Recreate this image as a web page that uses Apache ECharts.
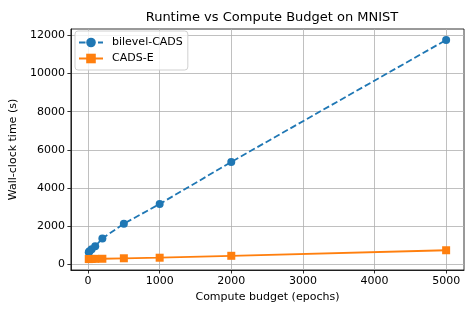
<!DOCTYPE html>
<html><head><meta charset="utf-8">
<script src="https://cdn.jsdelivr.net/npm/echarts@6/dist/echarts.min.js"></script>
<style>html,body{margin:0;padding:0;background:#fff}#c{width:476px;height:317px}</style>
</head><body><div id="c"></div>
<script>
const budgets = [10, 20, 50, 100, 200, 500, 1000, 2000, 5000];
const bilevelCADS = [640, 700, 800, 960, 1370, 2140, 3170, 5370, 11750];
const cadsE = [290, 290, 295, 300, 305, 330, 360, 460, 750];
const xTicks = [0, 1000, 2000, 3000, 4000, 5000];
const yTicks = [0, 2000, 4000, 6000, 8000, 10000, 12000];
const seriesNames = ['bilevel-CADS', 'CADS-E'];

const font = 'DejaVu Sans';
const chart = echarts.init(document.getElementById('c'), null, {renderer: 'canvas'});
const pairs = ys => budgets.map((b, i) => [b, ys[i]]);
const axisCommon = {
  axisLine: {show: true, onZero: false, lineStyle: {color: '#000', width: 0.8}},
  splitLine: {show: true, lineStyle: {color: '#b0b0b0', width: 0.8}},
  nameTextStyle: {fontFamily: font, fontSize: 11, color: '#000'}
};
const tick = vals => ({show: true, inside: false, length: 3.5, customValues: vals, lineStyle: {color: '#000', width: 0.8}});
const label = vals => ({customValues: vals, fontFamily: font, fontSize: 11, color: '#000', margin: 6, formatter: v => String(v)});
chart.setOption({
  animation: false,
  title: {text: 'Runtime vs Compute Budget on MNIST', left: 267, top: 6, textAlign: 'center',
    textStyle: {fontFamily: font, fontSize: 13, fontWeight: 'normal', color: '#000'}},
  grid: {left: 70, right: 12, top: 29, bottom: 47, show: true, borderColor: '#000', borderWidth: 0.8, backgroundColor: 'transparent'},
  legend: {
    left: 75, top: 31, orient: 'vertical', itemGap: 5, itemWidth: 24, itemHeight: 12,
    padding: [6, 5, 6, 3], borderColor: '#d0d0d0', borderWidth: 1, borderRadius: 3, backgroundColor: 'rgba(255,255,255,0.8)',
    textStyle: {fontFamily: font, fontSize: 11, color: '#000', padding: [0, 0, 0, 4]},
    data: seriesNames
  },
  xAxis: Object.assign({}, axisCommon, {
    type: 'value', min: -239.5, max: 5249.5,
    name: 'Compute budget (epochs)', nameLocation: 'middle', nameGap: 22,
    axisLabel: label(xTicks), axisTick: tick(xTicks)
  }),
  yAxis: Object.assign({}, axisCommon, {
    type: 'value', min: -283, max: 12323,
    name: 'Wall-clock time (s)', nameLocation: 'middle', nameGap: 44, nameRotate: 90,
    axisLabel: label(yTicks), axisTick: tick(yTicks)
  }),
  series: [
    {name: seriesNames[0], type: 'line', data: pairs(bilevelCADS), symbol: 'circle', symbolSize: 8,
     lineStyle: {color: '#1f77b4', width: 1.8, type: [6.5, 3]}, itemStyle: {color: '#1f77b4'}, z: 3},
    {name: seriesNames[1], type: 'line', data: pairs(cadsE), symbol: 'rect', symbolSize: 8,
     lineStyle: {color: '#ff7f0e', width: 1.8, type: 'solid'}, itemStyle: {color: '#ff7f0e'}, z: 4}
  ]
});
</script></body></html>
